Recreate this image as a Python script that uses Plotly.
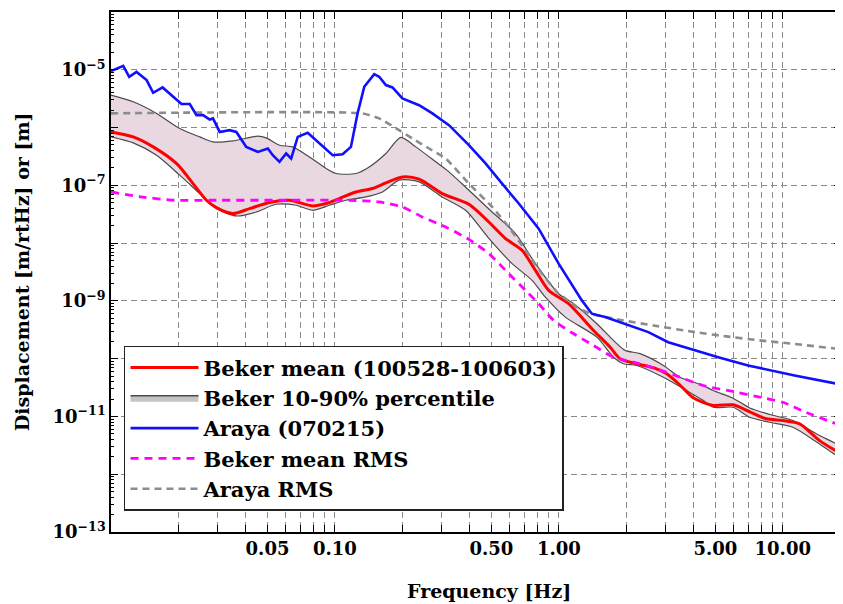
import plotly.graph_objects as go

# ---------------- data ----------------
araya_f = [0.0100, 0.01134, 0.01206, 0.0130, 0.01442, 0.01543, 0.0170, 0.01831, 0.02064, 0.02248,
           0.02408, 0.02576, 0.0276, 0.02854, 0.03058, 0.03388, 0.03629, 0.04019, 0.04527, 0.05017,
           0.05279, 0.05655, 0.06058, 0.06376, 0.06823, 0.07558, 0.08522, 0.0977, 0.1082, 0.1179,
           0.1262, 0.1352, 0.1498, 0.1576, 0.1689, 0.1807, 0.2002, 0.2376, 0.2723, 0.3231,
           0.3966, 0.4706, 0.558, 0.6622, 0.8128, 0.998, 1.267, 1.404, 1.61, 1.977,
           2.51, 3.08, 4.05, 5.15, 7.0, 8.89, 11.3, 18.2]
araya_disp = [9.5e-6, 1.17e-5, 7.57e-6, 9.2e-6, 6.63e-6, 4.0e-6, 4.95e-6, 3.79e-6, 2.55e-6, 2.55e-6,
              1.64e-6, 1.64e-6, 1.38e-6, 1.44e-6, 8.4e-7, 9.0e-7, 8.4e-7, 4.63e-7, 3.79e-7, 4.34e-7,
              3.32e-7, 2.55e-7, 3.56e-7, 2.91e-7, 6.9e-7, 8.1e-7, 5.3e-7, 3.32e-7, 3.46e-7, 4.63e-7,
              1.755e-6, 5.07e-6, 8.42e-6, 7.57e-6, 5.43e-6, 4.95e-6, 3.19e-6, 2.44e-6, 1.755e-6, 1.10e-6,
              4.95e-7, 2.39e-7, 1.07e-7, 4.84e-8, 1.78e-8, 4.42e-9, 1.02e-9, 6.0e-10, 5.24e-10, 4.03e-10,
              2.88e-10, 1.93e-10, 1.39e-10, 1.06e-10, 7.62e-11, 6.25e-11, 5.12e-11, 3.57e-11]

araya_rms_f = [0.01, 0.1328, 0.1576, 0.1935, 0.2218, 0.2633, 0.3124, 0.3966, 0.5036, 0.5977,
               0.7093, 0.841, 0.998, 1.05, 1.204, 1.381, 1.943, 2.64, 4.05, 5.6, 7.89, 11.1, 18.2]
araya_rms = [1.76e-6, 1.76e-6, 1.44e-6, 9.0e-7, 6.47e-7, 4.34e-7, 2.91e-7, 1.07e-7, 4.22e-8, 1.90e-8,
             7.5e-9, 2.96e-9, 1.33e-9, 1.16e-9, 7.81e-10, 6.0e-10, 4.59e-10, 3.76e-10, 2.88e-10, 2.43e-10,
             2.07e-10, 1.81e-10, 1.46e-10]

beker_rms_f = [0.01, 0.01364, 0.0192, 0.0276, 0.0694, 0.1159, 0.1576, 0.2002, 0.2458, 0.3124,
               0.3966, 0.4868, 0.5977, 0.7093, 0.8128, 0.948, 1.164, 1.429, 1.754, 2.153,
               2.73, 3.475, 4.41, 6.21, 7.89, 10.0, 12.7, 18.2]
beker_rms = [7.68e-8, 6.3e-8, 5.52e-8, 5.52e-8, 5.52e-8, 5.52e-8, 5.16e-8, 4.22e-8, 2.83e-8, 1.90e-8,
             1.16e-8, 6.58e-9, 2.96e-9, 1.52e-9, 8.94e-10, 4.59e-10, 2.70e-10, 1.69e-10, 1.06e-10, 8.7e-11,
             6.68e-11, 4.78e-11, 3.43e-11, 2.63e-11, 2.15e-11, 1.76e-11, 1.18e-11, 6.96e-12]

beker_mean_f = [0.01, 0.01257, 0.01543, 0.0196, 0.02325, 0.02668, 0.02955, 0.03503, 0.04158, 0.05105,
                0.06266, 0.07958, 0.09129, 0.1046, 0.1241, 0.1472, 0.1689, 0.2002, 0.2376, 0.3016,
                0.3966, 0.4868, 0.5778, 0.685, 0.786, 0.9006, 1.105, 1.429, 1.696, 1.878,
                2.227, 2.73, 3.03, 3.475, 3.98, 4.89, 6.0, 7.12, 8.44, 10.0,
                11.9, 14.6, 18.2]
beker_mean = [8.42e-7, 6.9e-7, 4.63e-7, 2.39e-7, 1.07e-7, 5.52e-8, 4.12e-8, 3.25e-8, 3.96e-8, 5.04e-8,
              5.52e-8, 4.40e-8, 4.84e-8, 5.9e-8, 7.68e-8, 8.8e-8, 1.10e-7, 1.40e-7, 1.28e-7, 7.2e-8,
              4.70e-8, 2.32e-8, 1.20e-8, 7.5e-9, 3.38e-9, 1.52e-9, 8.94e-10, 3.08e-10, 1.58e-10, 9.96e-11,
              8.16e-11, 6.68e-11, 5.47e-11, 3.5e-11, 2.1e-11, 1.55e-11, 1.59e-11, 1.2e-11, 9.1e-12, 8.5e-12,
              7.45e-12, 3.82e-12, 2.25e-12]

p90_f = [0.01, 0.01257, 0.01598, 0.02028, 0.0249, 0.02854, 0.03503, 0.04527, 0.04934, 0.05655,
         0.06481, 0.0769, 0.09129, 0.1011, 0.1241, 0.1423, 0.1689, 0.197, 0.2297, 0.2819,
         0.3231, 0.3966, 0.5036, 0.6403, 0.786, 0.998, 1.164, 1.478, 1.754, 1.977,
         2.307, 2.93, 3.475, 4.41, 4.89, 6.0, 7.12, 8.74, 11.1, 14.6, 18.2]
p90 = [3.64e-6, 2.79e-6, 1.755e-6, 9.64e-7, 6.9e-7, 5.65e-7, 5.88e-7, 7.1e-7, 6.63e-7, 4.95e-7,
       4.63e-7, 3.1e-7, 1.96e-7, 1.60e-7, 1.60e-7, 2.08e-7, 3.56e-7, 6.74e-7, 4.63e-7, 2.55e-7,
       1.71e-7, 8.22e-8, 3.46e-8, 1.46e-8, 4.42e-9, 1.33e-9, 8.94e-10, 4.03e-10, 2.07e-10, 1.39e-10,
       1.22e-10, 7.62e-11, 4.78e-11, 3.43e-11, 2.81e-11, 2.07e-11, 1.4e-11, 1.08e-11, 8.5e-12, 4.67e-12, 2.92e-12]

p10_f = [0.01, 0.01257, 0.01598, 0.02028, 0.0249, 0.02955, 0.03629, 0.04454, 0.05468, 0.06711,
         0.07958, 0.0944, 0.1121, 0.1375, 0.1631, 0.1935, 0.2376, 0.3016, 0.3834, 0.4868,
         0.6182, 0.7592, 0.871, 1.069, 1.478, 1.754, 1.943, 2.227, 2.93, 3.72,
         4.41, 4.89, 6.0, 7.12, 8.74, 11.1, 14.6, 18.2]
p10 = [6.9e-7, 5.43e-7, 3.32e-7, 1.50e-7, 7.2e-8, 3.96e-8, 2.95e-8, 3.46e-8, 4.70e-8, 4.52e-8,
       3.70e-8, 4.52e-8, 5.52e-8, 6.3e-8, 7.68e-8, 1.23e-7, 1.15e-7, 6.3e-8, 3.70e-8, 1.21e-8,
       4.42e-9, 2.27e-9, 1.16e-9, 5.24e-10, 2.36e-10, 1.06e-10, 8.16e-11, 7.62e-11, 4.78e-11, 2.81e-11,
       1.9e-11, 1.44e-11, 1.44e-11, 9.7e-12, 7.93e-12, 6.5e-12, 3.35e-12, 1.96e-12]

x_tick_vals = [0.05, 0.1, 0.5, 1, 5, 10]
x_tick_text = ["0.05", "0.10", "0.50", "1.00", "5.00", "10.00"]
y_label_exps = [-13, -11, -9, -7, -5]

# ---------------- styling ----------------
FONT = "DejaVu Serif"
GRID = "#8a8a8a"
fig = go.Figure()

# percentile band
fig.add_trace(go.Scatter(
    x=p90_f + p10_f[::-1], y=p90 + p10[::-1],
    fill="toself", fillcolor="#e9d8e1", mode="lines",
    line=dict(color="#4a4a4a", width=1.2, shape="spline", smoothing=0.7),
    showlegend=False, hoverinfo="skip"))

fig.add_trace(go.Scatter(x=beker_mean_f, y=beker_mean, mode="lines",
                         name="Beker mean (100528-100603)",
                         line=dict(color="#ff0000", width=3, shape="spline", smoothing=0.75),
                         legendrank=1))
fig.add_trace(go.Scatter(x=[None], y=[None], mode="lines", fill="toself",
                         fillcolor="#c4c4c4", line=dict(color="#4a4a4a", width=1.5),
                         name="Beker 10-90% percentile", legendrank=2))
fig.add_trace(go.Scatter(x=beker_rms_f, y=beker_rms, mode="lines", name="Beker mean RMS",
                         line=dict(color="#ff00ff", width=2.8, dash="8px,6px",
                                   shape="spline", smoothing=0.6),
                         legendrank=4))
fig.add_trace(go.Scatter(x=araya_rms_f, y=araya_rms, mode="lines", name="Araya RMS",
                         line=dict(color="#8c8c8c", width=2.6, dash="7px,5px",
                                   shape="spline", smoothing=0.5),
                         legendrank=5))
fig.add_trace(go.Scatter(x=araya_f, y=araya_disp, mode="lines", name="Araya (070215)",
                         line=dict(color="#1010ff", width=2.6), legendrank=3))

y_major = [10.0 ** e for e in range(-13, -3)]
y_text = [("10<sup>\u2212%d</sup>" % (-e)) if e in y_label_exps else "" for e in range(-13, -3)]
y_minor = [m * 10.0 ** e for e in range(-13, -4) for m in range(2, 10)]
x_minor = [m * 10.0 ** e for e in range(-2, 2) for m in range(2, 10)
           if m * 10.0 ** e not in (0.05, 0.5, 5.0)]

axis_font = dict(family=FONT, size=18, color="black", weight="bold")

# the page body adds an 8px offset, so the figure is 8px smaller than the window
fig.update_layout(
    width=835, height=596,
    margin=dict(l=103, r=0, t=4, b=72),
    paper_bgcolor="white", plot_bgcolor="white",
    showlegend=True,
    legend=dict(x=0.0178, y=0.358, xanchor="left", yanchor="top",
                bgcolor="white", bordercolor="#222", borderwidth=1.5,
                font=dict(family=FONT, size=21, color="black", weight="bold"),
                tracegroupgap=0, itemwidth=68),
    xaxis=dict(type="log", range=[-2, 1.2601],
               tickmode="array", tickvals=x_tick_vals, ticktext=x_tick_text,
               tickfont=axis_font, ticks="inside", ticklen=7, tickcolor="black",
               showgrid=True, gridcolor=GRID, griddash="6px,4px", gridwidth=1,
               showline=True, linecolor="black", linewidth=1.5, mirror="allticks",
               zeroline=False,
               minor=dict(tickmode="array", tickvals=x_minor, ticks="inside", ticklen=7,
                          tickcolor="black", showgrid=True, gridcolor=GRID,
                          griddash="6px,4px", gridwidth=1)),
    yaxis=dict(type="log", range=[-13, -4],
               tickmode="array", tickvals=y_major, ticktext=y_text,
               tickfont=axis_font, ticks="inside", ticklen=7, tickcolor="black",
               showgrid=True, gridcolor=GRID, griddash="6px,4px", gridwidth=1,
               showline=True, linecolor="black", linewidth=1.5, mirror="allticks",
               zeroline=False,
               minor=dict(tickmode="array", tickvals=y_minor, ticks="inside", ticklen=3,
                          tickcolor="black", showgrid=False)),
    annotations=[
        dict(text="Displacement [m/rtHz] or [m]", xref="paper", yref="paper",
             x=-0.1216, y=0.5, xanchor="center", yanchor="middle", textangle=-90,
             showarrow=False, font=dict(family=FONT, size=19, color="black", weight="bold")),
        dict(text="Frequency [Hz]", xref="paper", yref="paper",
             x=0.5178, y=-0.1135, xanchor="center", yanchor="middle",
             showarrow=False, font=dict(family=FONT, size=19, color="black", weight="bold")),
    ],
)

fig.write_html("out.html")
